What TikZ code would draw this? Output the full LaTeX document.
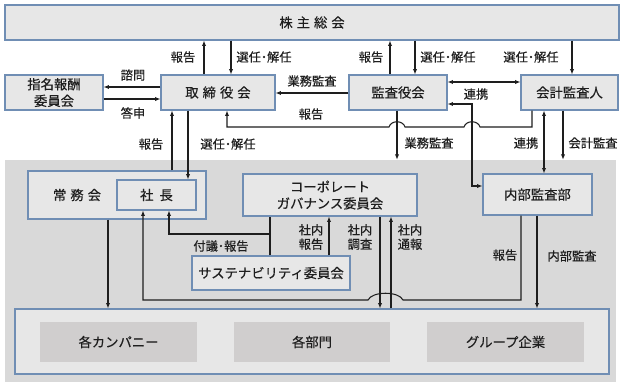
\documentclass[tikz,border=0pt]{standalone}
\usepackage{fontspec}
\setmainfont{Noto Sans CJK JP}[FakeBold=0.4]
\usetikzlibrary{arrows.meta}
\definecolor{bordc}{RGB}{112,142,180}
\definecolor{boxc}{RGB}{231,231,231}
\definecolor{zonec}{RGB}{217,217,217}
\definecolor{subc}{RGB}{208,206,206}
\definecolor{inkc}{RGB}{30,30,30}
\newcommand{\ksp}{\hspace{0.3em}}
\begin{document}
\begin{tikzpicture}[x=0.75pt,y=-0.75pt,>={Latex[length=4pt,width=3.2pt]},
  box/.style={draw=bordc,fill=boxc,line width=0.8pt,inner sep=0pt,text=inkc,
    font=\fontsize{10}{12.5}\selectfont,align=center},
  subbox/.style={fill=subc,inner sep=0pt,text=inkc,font=\fontsize{10}{12}\selectfont,
    minimum height=30pt},
  lbl/.style={inner sep=0pt,text=inkc,font=\fontsize{9.2}{10.7}\selectfont,align=center},
  conn/.style={line width=0.8pt,draw=inkc}]
 \useasboundingbox[fill=white] (0,0) rectangle (624,387);
 % shaded area of the company
 \node[fill=zonec,inner sep=0pt,minimum width=458.25pt,minimum height=166.5pt] (zone) at (310.5,271) {};
 % boxes
 \node[box,minimum width=460.5pt,minimum height=26.25pt] (gm) at (312,22.5) {株\ksp 主\ksp 総\ksp 会};
 \node[box,minimum width=73.5pt,minimum height=26.25pt] (nomcom) at (54,92.5) {指名報酬\\委員会};
 \node[box,minimum width=85.5pt,minimum height=26.25pt] (board) at (218,92.5) {取\ksp 締\ksp 役\ksp 会};
 \node[box,minimum width=73.5pt,minimum height=26.25pt] (kansa) at (398,92.5) {監査役会};
 \node[box,minimum width=72.75pt,minimum height=26.25pt] (auditor) at (569.5,92.5) {会計監査人};
 \node[box,minimum width=133.5pt,minimum height=36pt] (jomu) at (117,195) {};
 \node[lbl,font=\fontsize{10}{12}\selectfont] (jomutxt) at (77,195) {常\ksp 務\ksp 会};
 \node[box,minimum width=59.25pt,minimum height=22.5pt] (pres) at (156.5,195) {社\hspace{0.45em}長};
 \node[box,minimum width=130.5pt,minimum height=31.5pt] (cgc) at (330,195) {コーポレート\\ガバナンス委員会};
 \node[box,minimum width=118.5pt,minimum height=25.5pt] (susc) at (271,273) {サステナビリティ委員会};
 \node[box,minimum width=81.75pt,minimum height=30.75pt] (iad) at (537.5,194.5) {内部監査部};
 \node[box,minimum width=445.5pt,minimum height=48.75pt] (group) at (312,341.5) {};
 \node[subbox,minimum width=117.75pt] (comp) at (118.5,342) {各カンパニー};
 \node[subbox,minimum width=117pt] (dept) at (312,342) {各部門};
 \node[subbox,minimum width=117.75pt] (grp) at (505.5,342) {グループ企業};
 % upper connectors
 \draw[conn,->] (204,0 |- board.north) -- (204,0 |- gm.south);
 \draw[conn,->] (231,0 |- gm.south) -- (231,0 |- board.north);
 \draw[conn,->] (390,0 |- kansa.north) -- (390,0 |- gm.south);
 \draw[conn,->] (415,0 |- gm.south) -- (415,0 |- kansa.north);
 \draw[conn,->] (572,0 |- gm.south) -- (572,0 |- auditor.north);
 \draw[conn,->] (board.west |- 0,87) -- (nomcom.east |- 0,87);
 \draw[conn,->] (nomcom.east |- 0,99) -- (board.west |- 0,99);
 \draw[conn,->] (kansa.west |- 0,93) -- (board.east |- 0,93);
 \draw[conn,<->] (kansa.east |- 0,82) -- (auditor.west |- 0,82);
 \draw[conn,->] (532,0 |- auditor.south) -- (532,127) -- (480,127)
   .. controls (478,120) and (466,120) .. (464,127) -- (405,127)
   .. controls (403,120) and (391,120) .. (389,127) -- (227,127) -- (227,0 |- board.south);
 \draw[conn,<->] (kansa.east |- 0,104) -- (472,104) -- (472,186) -- (iad.west |- 0,186);
 \draw[conn,<->] (544,0 |- auditor.south) -- (544,0 |- iad.north);
 \draw[conn,->] (397,0 |- kansa.south) -- (397,0 |- zone.north);
 \draw[conn,->] (563,0 |- auditor.south) -- (563,0 |- zone.north);
 \draw[conn,->] (172,0 |- jomu.north) -- (172,0 |- board.south);
 \draw[conn,->] (188,0 |- board.south) -- (188,0 |- pres.north);
 % lower connectors
 \draw[conn,->] (108,0 |- jomu.south) -- (108,0 |- group.north);
 \draw[conn] (270,0 |- susc.north) -- (270,0 |- cgc.south);
 \draw[conn,->] (270,234) -- (169,234) -- (169,0 |- pres.south);
 \draw[conn,->] (329,0 |- susc.north) -- (329,0 |- cgc.south);
 \draw[conn,->] (380,0 |- cgc.south) -- (380,0 |- group.north);
 \draw[conn,->] (391,0 |- group.north) -- (391,0 |- cgc.south);
 \draw[conn,->] (521,0 |- iad.south) -- (521,300) -- (403,300)
   .. controls (399,291) and (372,291) .. (368,300) -- (143,300) -- (143,0 |- pres.south);
 \draw[conn,->] (537,0 |- iad.south) -- (537,0 |- group.north);
 % labels
 \node[lbl] (lrepgm) at (183,57) {報告};
 \node[lbl] (lelboard) at (264,57) {選任･解任};
 \node[lbl] (lrepks) at (371,57) {報告};
 \node[lbl] (lelks) at (448,57) {選任･解任};
 \node[lbl] (lelaud) at (531,57) {選任･解任};
 \node[lbl] (lconsult) at (133,75) {諮問};
 \node[lbl] (lanswer) at (133,113) {答申};
 \node[lbl] (laudbd) at (312,81) {業務監査};
 \node[lbl] (lrepbd) at (311,114) {報告};
 \node[lbl] (lcoop) at (476,94) {連携};
 \node[lbl] (lrepjm) at (151,144) {報告};
 \node[lbl] (leljm) at (228,144) {選任･解任};
 \node[lbl] (laudco) at (429,143) {業務監査};
 \node[lbl] (lcoopia) at (526,143) {連携};
 \node[lbl] (lacct) at (593,143) {会計監査};
 \node[lbl] (lrefer) at (221,246) {付議･報告};
 \node[lbl] (lintrep) at (311,237) {社内\\報告};
 \node[lbl] (lintinv) at (360,237) {社内\\調査};
 \node[lbl] (lintwb) at (410,237) {社内\\通報};
 \node[lbl] (lrepia) at (505,255) {報告};
 \node[lbl] (lintaud) at (572,256) {内部監査};
\end{tikzpicture}
\end{document}
